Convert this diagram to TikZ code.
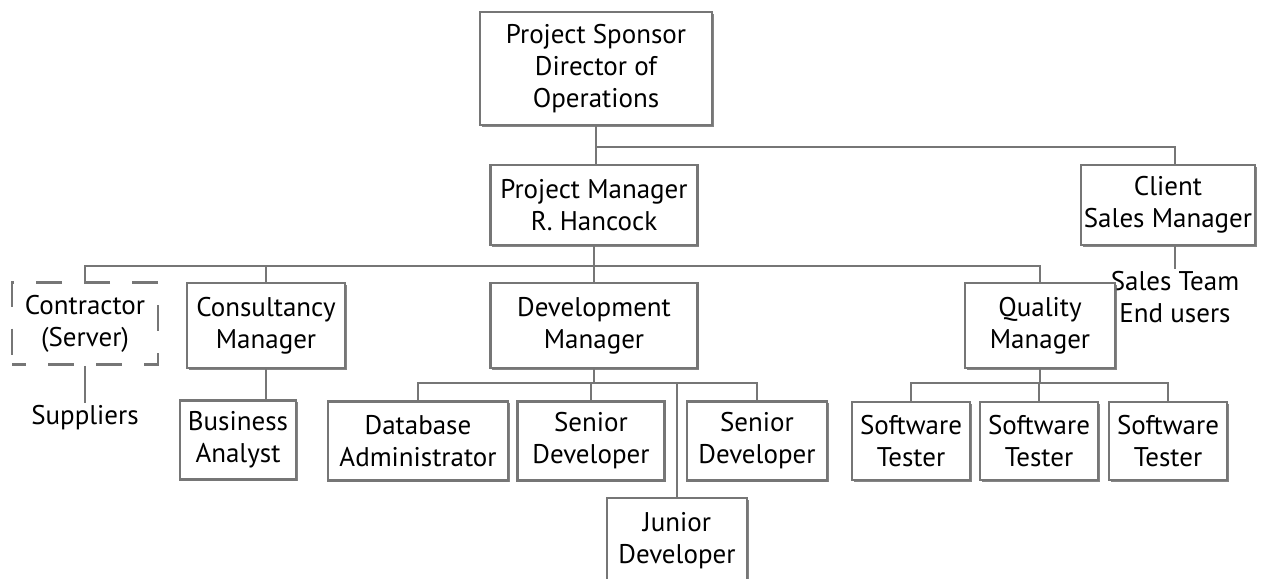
\documentclass[tikz,border=0pt]{standalone}
\usepackage{fontspec}
\setmainfont{PT Sans}
\usepackage{xcolor}
\usetikzlibrary{shadows}
\definecolor{orggray}{RGB}{118,118,118}

\tikzset{
    orgbox/.style={draw=orggray, line width=1.4pt, fill=white, align=center,
        inner sep=0pt, font=\fontsize{13.5}{16}\selectfont,
        drop shadow={shadow xshift=0.8pt, shadow yshift=-0.8pt, fill=black!60, opacity=0.8}},
    dashbox/.style={draw=orggray, line width=1.4pt, align=center, inner sep=0pt,
        font=\fontsize{13.5}{16}\selectfont, dash pattern=on 13pt off 11pt, dash phase=6pt},
    grouptext/.style={align=center, inner sep=1pt, font=\fontsize{13.5}{16}\selectfont},
    link/.style={draw=orggray, line width=1.4pt}
}

\begin{document}
\begin{tikzpicture}[x=0.5pt, y=-0.5pt]
    \useasboundingbox (0,0) rectangle (1266,579);
    % top of the chart
    \node[orgbox, minimum width=116pt, minimum height=56.5pt] (sponsor) at (596,68.5)
        {Project Sponsor\\Director of\\Operations};
    \node[orgbox, minimum width=103.5pt, minimum height=40pt] (pm) at (594,205)
        {Project Manager\\R. Hancock};
    \node[orgbox, minimum width=87pt, minimum height=40pt] (client) at (1168,205)
        {Client\\Sales Manager};
    \node[grouptext, anchor=north] (salesteam) at (1175,269) {Sales Team\\End users};

    % managers
    \node[dashbox, minimum width=73pt, minimum height=41pt] (contractor) at (85,323.5)
        {Contractor\\(Server)};
    \node[grouptext, anchor=north] (suppliers) at (85,403) {Suppliers};
    \node[orgbox, minimum width=79pt, minimum height=42.5pt] (consult) at (266,325.5)
        {Consultancy\\Manager};
    \node[orgbox, minimum width=103.5pt, minimum height=42.5pt] (devmgr) at (594,325.5)
        {Development\\Manager};
    \node[orgbox, minimum width=75pt, minimum height=42.5pt] (qamgr) at (1040,325.5)
        {Quality\\Manager};

    % staff
    \node[orgbox, minimum width=58pt, minimum height=39.5pt] (analyst) at (238,440)
        {Business\\Analyst};
    \node[orgbox, minimum width=90pt, minimum height=39.5pt] (dba) at (418,441)
        {Database\\Administrator};
    \node[orgbox, minimum width=73.5pt, minimum height=39.5pt] (seniorA) at (591,441)
        {Senior\\Developer};
    \node[orgbox, minimum width=70pt, minimum height=39.5pt] (seniorB) at (757,441)
        {Senior\\Developer};
    \node[orgbox, minimum width=70pt, minimum height=43pt] (junior) at (677,541)
        {Junior\\Developer};
    \node[orgbox, minimum width=59pt, minimum height=39pt] (testerA) at (911,441)
        {Software\\Tester};
    \node[orgbox, minimum width=59pt, minimum height=39pt] (testerB) at (1039,441)
        {Software\\Tester};
    \node[orgbox, minimum width=59pt, minimum height=39pt] (testerC) at (1168,441)
        {Software\\Tester};

    % connectors
    \coordinate (topbar) at (0,147);
    \coordinate (pmbar) at (0,266);
    \coordinate (devbar) at (0,383);
    \draw[link] (sponsor.south) -- (sponsor.south |- pm.north);
    \draw[link] (sponsor.south |- topbar) -| (salesteam.north |- client.north);
    \draw[link] (client.south) ++(7,0) -- (salesteam.north);
    \draw[link] (pm.south) -- (pm.south |- pmbar);
    \foreach \n in {contractor,consult,devmgr,qamgr}
        \draw[link] (pm.south |- pmbar) -| (\n.north);
    \draw[link] (contractor.south) -- (suppliers.north);
    \draw[link] (consult.south) -- (consult.south |- analyst.north);
    \foreach \n in {dba,seniorA,seniorB}
        \draw[link] (devmgr.south) -- (devmgr.south |- devbar) -| (\n.north);
    \draw[link] (junior.north |- devbar) -- (junior.north);
    \foreach \n in {testerA,testerB,testerC}
        \draw[link] (qamgr.south) -- (qamgr.south |- devbar) -| (\n.north);
\end{tikzpicture}
\end{document}
